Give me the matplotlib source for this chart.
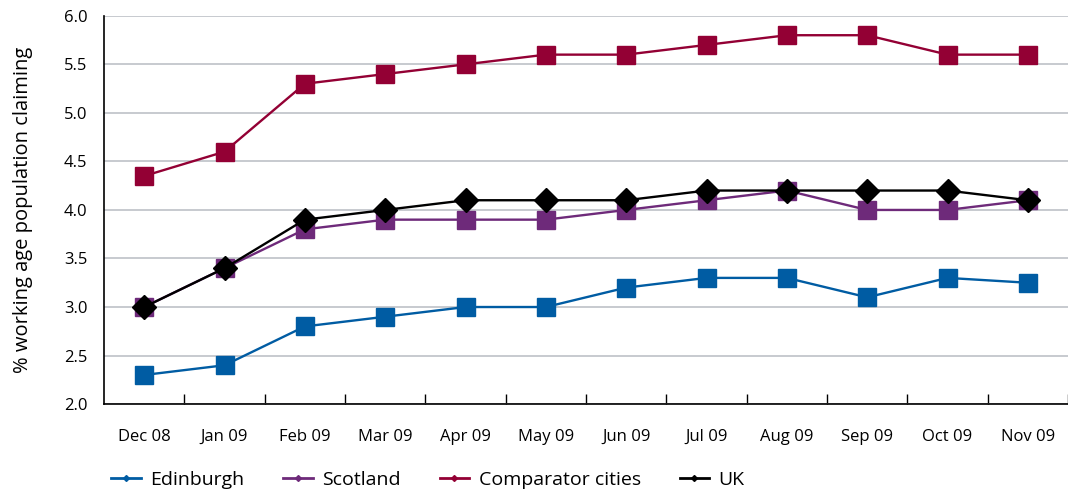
import matplotlib
matplotlib.use('Agg')
import matplotlib.pyplot as plt
from matplotlib.lines import Line2D
import numpy as np

plt.rcParams['font.family'] = ['Open Sans', 'DejaVu Sans']

#%% Data
months = ['Dec 08', 'Jan 09', 'Feb 09', 'Mar 09', 'Apr 09', 'May 09',
          'Jun 09', 'Jul 09', 'Aug 09', 'Sep 09', 'Oct 09', 'Nov 09']
edinburgh = [2.3, 2.4, 2.8, 2.9, 3.0, 3.0, 3.2, 3.3, 3.3, 3.1, 3.3, 3.25]
scotland = [3.0, 3.4, 3.8, 3.9, 3.9, 3.9, 4.0, 4.1, 4.2, 4.0, 4.0, 4.1]
comparator = [4.35, 4.6, 5.3, 5.4, 5.5, 5.6, 5.6, 5.7, 5.8, 5.8, 5.6, 5.6]
uk = [3.0, 3.4, 3.9, 4.0, 4.1, 4.1, 4.1, 4.2, 4.2, 4.2, 4.2, 4.1]

c_edi = '#005ca3'
c_sco = '#6e2a7a'
c_com = '#930034'
c_uk = '#000000'

x = np.arange(len(months))

#%% Plot
fig = plt.figure(figsize=(10.68, 4.94), dpi=100)
ax = fig.add_axes([0.0974, 0.182, 0.9026, 0.786])

ax.plot(x, edinburgh, color=c_edi, lw=1.7, marker='s', ms=13, zorder=3)
ax.plot(x, scotland, color=c_sco, lw=1.7, marker='s', ms=13, zorder=3)
ax.plot(x, comparator, color=c_com, lw=1.7, marker='s', ms=13, zorder=3)
ax.plot(x, uk, color=c_uk, lw=1.7, marker='D', ms=12, zorder=4)

ax.set_xlim(-0.5, 11.44)
ax.set_ylim(2.0, 6.0)
ax.set_yticks(np.arange(2.0, 6.01, 0.5))
ax.set_yticklabels(['%.1f' % v for v in np.arange(2.0, 6.01, 0.5)], fontsize=12)
ax.tick_params(axis='y', length=0, pad=12)
ax.yaxis.grid(True, color='#c3c6cb', lw=1.3)
ax.set_axisbelow(True)

# month labels at categories, tick marks between them
ax.set_xticks(x + 0.5)
ax.set_xticklabels([])
ax.set_xticks(x, minor=True)
ax.set_xticklabels(months, minor=True, fontsize=12)
ax.tick_params(axis='x', which='major', direction='in', length=7, width=1, color='black')
ax.tick_params(axis='x', which='minor', length=0, pad=18)

for s in ['top', 'right']:
    ax.spines[s].set_visible(False)
ax.spines['left'].set_linewidth(1.2)
ax.spines['bottom'].set_linewidth(1.2)

ax.set_ylabel('% working age population claiming', fontsize=14.5, labelpad=22)

handles = [Line2D([], [], color=c, lw=2, marker='D', ms=3) for c in [c_edi, c_sco, c_com, c_uk]]
fig.legend(handles, ['Edinburgh', 'Scotland', 'Comparator cities', 'UK'],
           loc='lower left', bbox_to_anchor=(0.088, -0.025), ncol=4, frameon=False,
           fontsize=14, handlelength=1.5, handletextpad=0.5, columnspacing=2.0)

plt.savefig('out.png', dpi=100)
